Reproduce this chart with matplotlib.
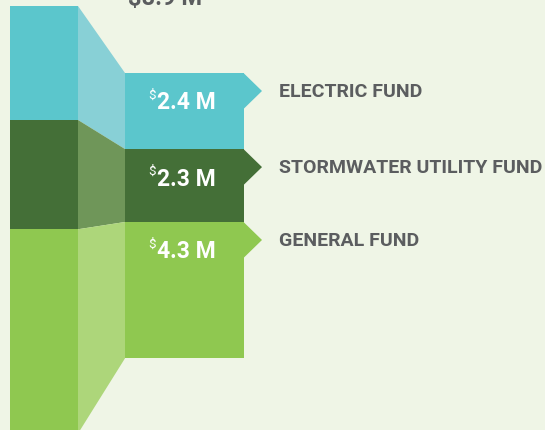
import matplotlib.pyplot as plt
from matplotlib.patches import Polygon, Rectangle

# data ($ millions)
funds = ['ELECTRIC FUND', 'STORMWATER UTILITY FUND', 'GENERAL FUND']
values = [2.4, 2.3, 4.3]
value_labels = ['2.4 M', '2.3 M', '4.3 M']
total_label = '$8.9 M'

# colours
bg = '#eff5e6'
main_cols = ['#5bc6cc', '#446f37', '#8fc850']
band_cols = ['#88d0d6', '#6f9659', '#add67a']
text_gray = '#5b5d5f'
font = 'Roboto'

# layout (pixels, y down)
left_x0, left_x1 = 10, 78
right_x0, right_x1 = 125, 244
left_top, right_top = 7, 74
left_scale, right_scale = 47.5, 31.7
arrow_w, arrow_h = 18, 36

fig = plt.figure(figsize=(5.45, 4.31), dpi=100)
fig.patch.set_facecolor(bg)
ax = fig.add_axes([0, 0, 1, 1])
ax.set_xlim(0, 545)
ax.set_ylim(431, 0)
ax.axis('off')

yl, yr = left_top, right_top
for i, v in enumerate(values):
    hl = v * left_scale
    hr = v * right_scale
    # left column
    ax.add_patch(Rectangle((left_x0, yl), left_x1 - left_x0, hl, color=main_cols[i], lw=0))
    # connecting band
    ax.add_patch(Polygon([(left_x1, yl), (right_x0, yr), (right_x0, yr + hr), (left_x1, yl + hl)],
                         closed=True, color=band_cols[i], lw=0))
    # right column
    ax.add_patch(Rectangle((right_x0, yr), right_x1 - right_x0, hr, color=main_cols[i], lw=0))
    # arrow tip
    ax.add_patch(Polygon([(right_x1 - 0.5, yr), (right_x1 + arrow_w, yr + arrow_h / 2),
                          (right_x1 - 0.5, yr + arrow_h)], closed=True, color=main_cols[i], lw=0))
    # value label
    ax.text(157, yr + 29, value_labels[i], color='white', fontsize=16.5, fontweight='bold',
            family=font, ha='left', va='center')
    ax.text(156, yr + 21, '$', color='white', fontsize=9.5, family=font,
            ha='right', va='center')
    # fund name
    ax.text(279, yr + arrow_h / 2, funds[i], color=text_gray, fontsize=14, fontweight='bold',
            family=font, ha='left', va='center')
    yl += hl
    yr += hr

ax.text(128, 5, total_label, color=text_gray, fontsize=17, fontweight='bold',
        family=font, ha='left', va='baseline')

fig.savefig('out.png', dpi=100, facecolor=bg)
